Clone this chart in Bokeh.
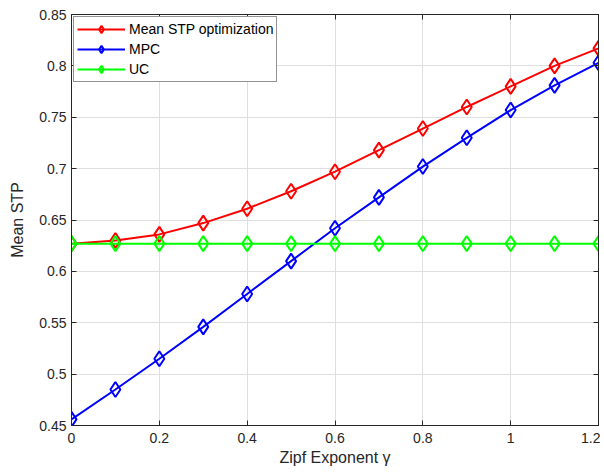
from bokeh.plotting import figure
from bokeh.models import Range1d, FixedTicker, LinearAxis, Legend, LegendItem
from bokeh.embed import file_html
from bokeh.resources import INLINE

gamma = [0.0, 0.1, 0.2, 0.3, 0.4, 0.5, 0.6, 0.7, 0.8, 0.9, 1.0, 1.1, 1.2]
stp_opt = [0.627, 0.630, 0.636, 0.647, 0.661, 0.678, 0.697, 0.718, 0.739, 0.760, 0.780, 0.800, 0.817]
stp_mpc = [0.456, 0.485, 0.515, 0.546, 0.578, 0.610, 0.642, 0.672, 0.702, 0.730, 0.757, 0.781, 0.803]
stp_uc = [0.627] * 13

x_ticks = [0, 0.2, 0.4, 0.6, 0.8, 1.0, 1.2]
x_labels = ["0", "0.2", "0.4", "0.6", "0.8", "1", "1.2"]
y_ticks = [0.45, 0.5, 0.55, 0.6, 0.65, 0.7, 0.75, 0.8, 0.85]
y_labels = ["0.45", "0.5", "0.55", "0.6", "0.65", "0.7", "0.75", "0.8", "0.85"]

FONT = "Liberation Sans"
AX = "#262626"

p = figure(width=600, height=470, output_backend="svg", toolbar_location=None,
           x_range=Range1d(0, 1.2), y_range=Range1d(0.45, 0.85),
           min_border_left=71, min_border_right=2, min_border_top=14, min_border_bottom=45)
p.outline_line_color = AX
p.outline_line_width = 1

for ax in (p.xaxis[0], p.yaxis[0]):
    ax.major_tick_in = 5
    ax.major_tick_out = 0
    ax.minor_tick_in = 0
    ax.minor_tick_out = 0
    ax.axis_line_color = AX
    ax.major_tick_line_color = AX
    ax.major_label_text_font = FONT
    ax.major_label_text_font_size = "14px"
    ax.major_label_text_color = AX
    ax.axis_label_text_font = FONT
    ax.axis_label_text_font_size = "16px"
    ax.axis_label_text_font_style = "normal"
    ax.axis_label_text_color = AX

p.xaxis.ticker = FixedTicker(ticks=x_ticks)
p.yaxis.ticker = FixedTicker(ticks=y_ticks)
p.xaxis.major_label_overrides = {t: l for t, l in zip(x_ticks, x_labels)}
p.yaxis.major_label_overrides = {t: l for t, l in zip(y_ticks, y_labels)}
p.xaxis.axis_label = "Zipf Exponent γ"
p.yaxis.axis_label = "Mean STP"
p.xaxis.major_label_standoff = 7
p.xaxis.axis_label_standoff = 3
p.yaxis.major_label_standoff = 5
p.yaxis.axis_label_standoff = 10

top = LinearAxis(ticker=FixedTicker(ticks=x_ticks),
                 major_label_overrides={t: "" for t in x_ticks},
                 major_tick_in=5, major_tick_out=0, minor_tick_in=0, minor_tick_out=0,
                 axis_line_color=AX, major_tick_line_color=AX, major_label_standoff=0)
right = LinearAxis(ticker=FixedTicker(ticks=y_ticks),
                   major_label_overrides={t: "" for t in y_ticks},
                   major_tick_in=5, major_tick_out=0, minor_tick_in=0, minor_tick_out=0,
                   axis_line_color=AX, major_tick_line_color=AX, major_label_standoff=0)
p.add_layout(top, "above")
p.add_layout(right, "right")

p.grid.grid_line_color = "#dfdfdf"
p.grid.grid_line_width = 1

items = []
for ys, col, name in [(stp_opt, "#ff0000", "Mean STP optimization"),
                      (stp_mpc, "#0000ff", "MPC"),
                      (stp_uc, "#00ff00", "UC")]:
    ln = p.line(gamma, ys, line_color=col, line_width=2)
    mk = p.scatter(gamma, ys, marker="diamond", size=15, line_color=col, line_width=2,
                   fill_color="white", fill_alpha=0)
    items.append(LegendItem(label=name, renderers=[ln, mk]))

legend = Legend(items=items, location="top_left")
legend.margin = 2
legend.padding = 3
legend.spacing = 2
legend.label_text_font = FONT
legend.label_text_font_size = "14px"
legend.label_text_color = "#000000"
legend.label_standoff = 4
legend.glyph_width = 48
legend.glyph_height = 18
legend.label_height = 18
legend.border_line_color = "#262626"
legend.border_line_width = 1
legend.background_fill_color = "white"
legend.background_fill_alpha = 1
p.add_layout(legend, "center")

open("out.html", "w").write(file_html(p, INLINE))
